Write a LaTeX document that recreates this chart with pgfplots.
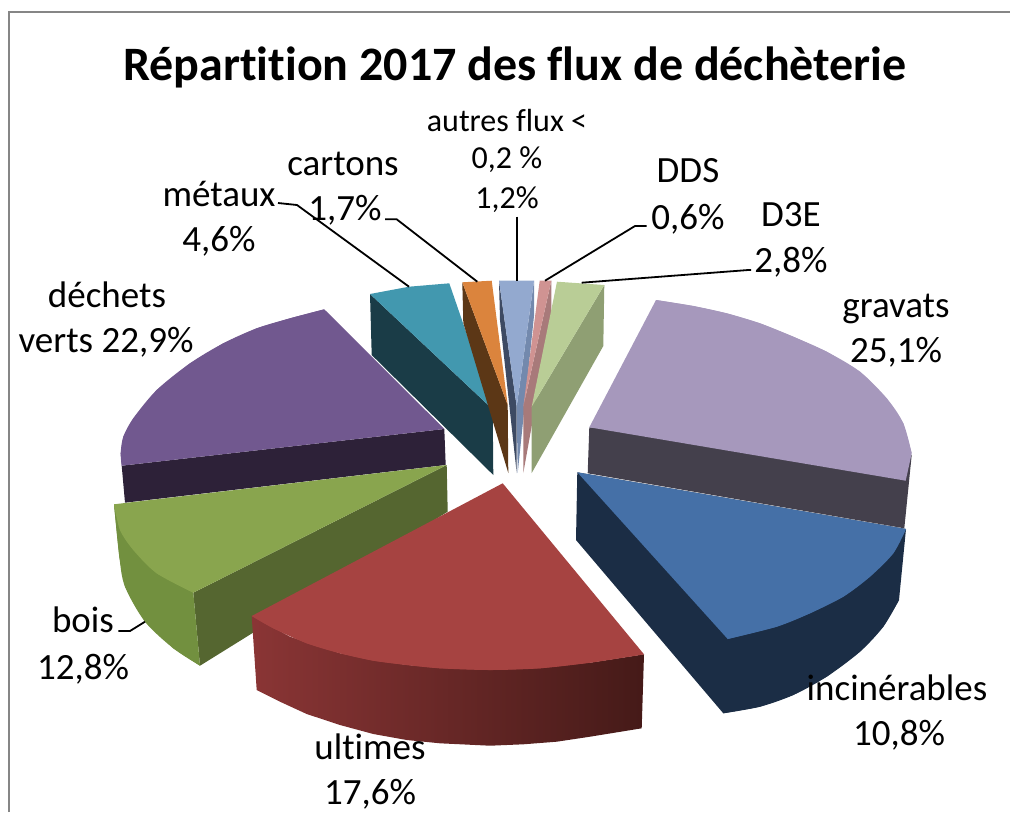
\documentclass[border=0pt]{standalone}
\usepackage{fontspec}
\setmainfont{Carlito}[Ligatures=NoCommon]
\usepackage{pgfplots}
\pgfplotsset{compat=1.18}
\definecolor{grav}{HTML}{A698BC}\definecolor{gravS}{HTML}{44404C}
\definecolor{inc}{HTML}{4570A7}\definecolor{incS}{HTML}{1B2D45}
\definecolor{ult}{HTML}{A64341}\definecolor{ultL}{HTML}{8A3535}\definecolor{ultR}{HTML}{451A18}
\definecolor{boi}{HTML}{89A54E}\definecolor{boiS}{HTML}{556630}\definecolor{boiC}{HTML}{72903F}
\definecolor{dec}{HTML}{71588F}\definecolor{decS}{HTML}{2D2138}
\definecolor{met}{HTML}{4298AF}\definecolor{metS}{HTML}{1A3C47}
\definecolor{car}{HTML}{DB843D}\definecolor{carS}{HTML}{5C3716}
\definecolor{aut}{HTML}{93A9CF}\definecolor{autL}{HTML}{3D4A63}\definecolor{autR}{HTML}{7389AD}
\definecolor{dds}{HTML}{D09392}\definecolor{ddsS}{HTML}{A87A7A}
\definecolor{dee}{HTML}{B9CD96}\definecolor{deeS}{HTML}{8F9F73}
\definecolor{frame}{HTML}{868686}
\newcommand{\lab}[3]{\node[anchor=base,inner sep=0pt] at (axis cs:#1,#2) {\fontsize{37}{37}\selectfont #3};}
\pgfplotsset{wedge/.style={draw=none,fill=#1,mark=none,forget plot},
  leader/.style={black,line width=1.8pt,mark=none,forget plot}}
\begin{document}
\begin{tikzpicture}
\begin{axis}[
    scale only axis, width=1010pt, height=812pt,
    xmin=0, xmax=1010, ymin=0, ymax=812, y dir=reverse,
    hide axis, clip=true,
]
% cadre
\addplot[frame,line width=2pt,mark=none,forget plot] coordinates {(9,812) (9,12) (1010,12)};
% gravats
\addplot[wedge=gravS] coordinates {(589.3,427.3) (911.7,455) (904.3,528.3) (587.7,473.3)} -- cycle;
\addplot[wedge=grav] coordinates {(656,300) (693.3,306) (726.7,313.3) (760,323.3) (793.3,336.7) (826.7,351.7) (860,371.7) (886.7,398.3) (903.3,423.3) (911.7,453.3) (905.7,480.7) (589.3,427.3)} -- cycle;
\addplot[wedge=grav,smooth] coordinates {(656,300) (693.3,306) (726.7,313.3) (760,323.3) (793.3,336.7) (826.7,351.7) (860,371.7) (886.7,398.3) (903.3,423.3) (911.7,453.3)};
% incinerables
\addplot[wedge=incS] coordinates {(577.3,472.3) (576,540) (723.3,713.3) (760,706.7) (793.3,695) (826.7,676.7) (860,651.7) (883.3,626.7) (899,600) (906,529)} -- cycle;
\addplot[wedge=incS,smooth] coordinates {(723.3,713.3) (760,706.7) (793.3,695) (826.7,676.7) (860,651.7) (883.3,626.7) (899,600)};
\addplot[wedge=inc] coordinates {(577.3,472.3) (906,529) (893.3,553.3) (870,576.7) (843.3,596.7) (810,613.3) (776.7,626.7) (727.7,639)} -- cycle;
\addplot[wedge=inc,smooth] coordinates {(906,529) (893.3,553.3) (870,576.7) (843.3,596.7) (810,613.3) (776.7,626.7) (727.7,639)};
% dechets verts
\addplot[wedge=decS] coordinates {(121.7,465.7) (125,502.7) (445.7,465) (444.3,429)} -- cycle;
\addplot[wedge=dec] coordinates {(324.3,309.3) (290,318.3) (256.7,328.3) (223.3,343.3) (190,363.3) (156.7,390) (133.3,418.3) (123.3,436.7) (120.7,453.3) (121.7,465.7) (444.3,429)} -- cycle;
\addplot[wedge=dec,smooth] coordinates {(324.3,309.3) (290,318.3) (256.7,328.3) (223.3,343.3) (190,363.3) (156.7,390) (133.3,418.3) (123.3,436.7) (120.7,453.3) (121.7,465.7)};
% bois
\addplot[wedge=boiS] coordinates {(193.3,592.7) (200,665.7) (447.7,511.7) (446.7,465)} -- cycle;
\addplot[wedge=boiC] coordinates {(114,504.3) (119.3,556.7) (125,586.7) (145,621.7) (173.3,648.3) (200,665.7) (193.3,592.7)} -- cycle;
\addplot[wedge=boiC,smooth] coordinates {(114,504.3) (119.3,556.7) (125,586.7) (145,621.7) (173.3,648.3) (200,665.7)};
\addplot[wedge=boi] coordinates {(114,504.3) (446.7,465) (193.3,592.7) (156.7,573.3) (133.3,550) (120,530)} -- cycle;
\addplot[wedge=boi,smooth] coordinates {(114,504.3) (120,530) (133.3,550) (156.7,573.3) (193.3,592.7)};
% ultimes
\addplot[draw=none,left color=ultL,right color=ultR,mark=none,forget plot] coordinates {(251.7,616) (256.7,690) (280,701.7) (306.7,714) (340,725) (373.3,734) (406.7,740) (440,743.3) (490,745.7) (523.3,744.3) (556.7,741.7) (590,736.7) (641.7,728.3) (644,654.3) (590,662.7) (490,670) (406.7,665) (340,653.3) (290,636.7)} -- cycle;
\addplot[wedge=ult] coordinates {(502.7,483.3) (251.7,616) (273.3,628.3) (306.7,643.3) (340,653.3) (373.3,660.7) (406.7,665) (440,668.3) (490,670) (540,668.3) (590,662.7) (644,654.3)} -- cycle;
\addplot[wedge=ult,smooth] coordinates {(251.7,616) (273.3,628.3) (306.7,643.3) (340,653.3) (373.3,660.7) (406.7,665) (440,668.3) (490,670) (540,668.3) (590,662.7) (644,654.3)};
% metaux
\addplot[wedge=metS] coordinates {(370,294) (371.7,355) (493.3,475) (492.7,409.3)} -- cycle;
\addplot[wedge=met] coordinates {(370,294) (409,286.7) (449.3,283.3) (492.7,409.3)} -- cycle;
% cartons
\addplot[wedge=carS] coordinates {(462.3,282.3) (463.3,323) (508.3,473) (507.7,405)} -- cycle;
\addplot[wedge=car] coordinates {(462.3,282.3) (491.7,280.7) (507.7,405)} -- cycle;
% autres flux
\addplot[wedge=autL] coordinates {(499,280.7) (500,320) (516.7,473) (516.7,406.7)} -- cycle;
\addplot[wedge=autR] coordinates {(534,280.7) (534,316) (517.7,473) (516.7,406.7)} -- cycle;
\addplot[wedge=aut] coordinates {(499,280.7) (534,280.7) (516.7,406.7)} -- cycle;
% DDS
\addplot[wedge=ddsS] coordinates {(551.3,280.7) (551.3,316.7) (523.3,473) (523.3,406.7)} -- cycle;
\addplot[wedge=dds] coordinates {(539.7,280.7) (551.3,280.7) (523.3,406.7)} -- cycle;
% D3E
\addplot[wedge=deeS] coordinates {(604.3,285) (603.3,346) (531.7,473) (531.7,406.7)} -- cycle;
\addplot[wedge=dee] coordinates {(557,281.7) (604.3,285) (531.7,406.7)} -- cycle;
% traits de rappel
\addplot[leader] coordinates {(278,203) (297,205) (409,286.7)};
\addplot[leader] coordinates {(385,219.3) (396.7,219.3) (477.3,281.7)};
\addplot[leader] coordinates {(516.7,216.7) (516.7,280.7)};
\addplot[leader] coordinates {(646.7,226) (635,226) (545,280.7)};
\addplot[leader] coordinates {(581.7,282.7) (748.3,270) (751,270)};
\addplot[leader] coordinates {(118.3,631) (130,631) (145,621.7)};
% textes
\node[anchor=base,inner sep=0pt] at (axis cs:515,80) {\fontsize{48}{48}\selectfont\bfseries Répartition 2017 des flux de déchèterie};
\node[anchor=base,inner sep=0pt] at (axis cs:507,131) {\fontsize{32}{32}\selectfont autres flux <};
\node[anchor=base,inner sep=0pt] at (axis cs:507,168) {\fontsize{32}{32}\selectfont 0,2 \%};
\node[anchor=base,inner sep=0pt] at (axis cs:507,208) {\fontsize{32}{32}\selectfont 1,2\%};
\lab{343}{175}{cartons}\lab{345}{220}{1,7\%}
\lab{219}{206}{métaux}\lab{219}{251}{4,6\%}
\lab{688}{182}{DDS}\lab{688}{229}{0,6\%}
\lab{791}{226}{D3E}\lab{791}{272}{2,8\%}
\lab{896}{317}{gravats}\lab{896}{362}{25,1\%}
\lab{107}{307}{déchets}\lab{106}{352}{verts 22,9\%}
\lab{83}{632}{bois}\lab{83}{679}{12,8\%}
\lab{897}{700}{incinérables}\lab{899}{745}{10,8\%}
\lab{370}{759}{ultimes}\lab{370}{804}{\raisebox{0pt}[\height][0pt]{17,6\%}}
\end{axis}
\pgfresetboundingbox
\useasboundingbox (0,0) rectangle (1010pt,812pt);
\end{tikzpicture}
\end{document}
